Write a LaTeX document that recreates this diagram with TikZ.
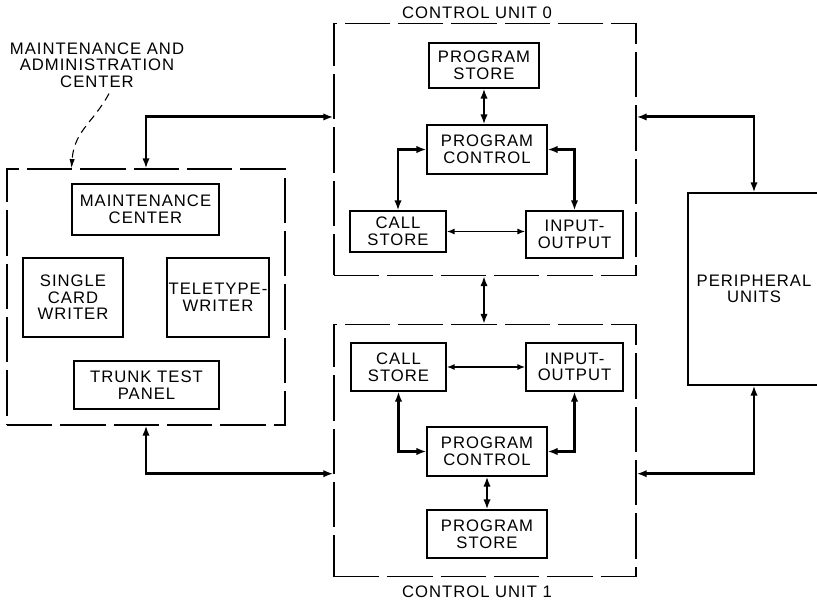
\documentclass[tikz,border=0pt]{standalone}
\usepackage{fontspec}
\setmainfont{Liberation Sans}[LetterSpace=6]
\usetikzlibrary{positioning,arrows.meta,calc}

\begin{document}
\begin{tikzpicture}[
    x=0.75pt, y=-0.75pt,
    every node/.style={font=\fontsize{12.5}{12.5}\selectfont, align=center},
    unitBox/.style={rectangle, draw, line width=0.9pt, dash pattern=on 34pt off 6pt, minimum width=226.5pt, minimum height=189pt, inner sep=0pt},
    blockNode/.style={rectangle, draw, line width=0.8pt, inner sep=1pt},
    busEdge/.style={line width=2.2pt, {Latex[length=7.5pt,width=5.5pt]}-{Latex[length=7.5pt,width=5.5pt]}},
    linkEdge/.style={line width=1.3pt, {Latex[length=6pt,width=4.5pt]}-{Latex[length=6pt,width=4.5pt]}},
    noteEdge/.style={line width=0.8pt, dash pattern=on 6pt off 4pt, -{Latex[length=7pt,width=4pt]}}
]
    \useasboundingbox (0,0) rectangle (817,602);

    % control unit 0
    \node [unitBox] (cu0) at (485,149.5) {};
    \node (title0) at (477,13) {CONTROL UNIT 0};
    \node [blockNode, minimum width=82.5pt, minimum height=33.75pt] (ps0) at (484,65.5) {PROGRAM\\STORE};
    \node [blockNode, minimum width=90pt, minimum height=36.75pt] (pc0) at (487,149.5) {PROGRAM\\CONTROL};
    \node [blockNode, minimum width=72pt, minimum height=30.75pt] (cs0) at (398,231.5) {CALL\\STORE};
    \node [blockNode, minimum width=72.75pt, minimum height=35.25pt] (io0) at (574.5,234.5) {INPUT-\\OUTPUT};

    % control unit 1
    \node [unitBox] (cu1) at (485,450.5) {};
    \node (title1) at (477,592) {CONTROL UNIT 1};
    \node [blockNode, minimum width=71.25pt, minimum height=36pt] (cs1) at (398.5,367) {CALL\\STORE};
    \node [blockNode, minimum width=72.75pt, minimum height=36pt] (io1) at (574.5,367) {INPUT-\\OUTPUT};
    \node [blockNode, minimum width=90pt, minimum height=36.75pt] (pc1) at (487,451.5) {PROGRAM\\CONTROL};
    \node [blockNode, minimum width=90pt, minimum height=36pt] (ps1) at (487,534) {PROGRAM\\STORE};

    % maintenance and administration center
    \node [unitBox, minimum width=208.5pt, minimum height=192pt] (mac) at (146,297) {};
    \node (macLabel) at (97,65) {MAINTENANCE AND\\ADMINISTRATION\\CENTER};
    \node [blockNode, minimum width=110.25pt, minimum height=38.25pt] (mc) at (145.5,209.5) {MAINTENANCE\\CENTER};
    \node [blockNode, minimum width=75pt, minimum height=59.25pt] (scw) at (73,297.5) {SINGLE\\CARD\\WRITER};
    \node [blockNode, minimum width=76.5pt, minimum height=59.25pt] (tw) at (218,297.5) {TELETYPE-\\WRITER};
    \node [blockNode, minimum width=108.75pt, minimum height=36pt] (ttp) at (146.5,385) {TRUNK TEST\\PANEL};

    % peripheral units
    \node [blockNode, minimum width=99pt, minimum height=144pt] (per) at (754,289) {PERIPHERAL\\UNITS};

    % inside the control units
    \draw [busEdge] (ps0) -- (ps0 |- pc0.north);
    \draw [busEdge] (pc0.west) -| (cs0.north);
    \draw [busEdge] (pc0.east) -| (io0.north);
    \draw [linkEdge] (cs0.east) -- (cs0.east -| io0.west);
    \draw [linkEdge] (cs1.east) -- (cs1.east -| io1.west);
    \draw [busEdge] (pc1.west) -| (cs1.south);
    \draw [busEdge] (pc1.east) -| (io1.south);
    \draw [busEdge] (pc1) -- (ps1);

    % between the units
    \draw [busEdge] (cu0.south -| ps0) -- (cu1.north -| ps0);
    \draw [busEdge] (mac.north) |- ([yshift=24.4pt]cu0.west);
    \draw [busEdge] (mac.south) |- ([yshift=-17.4pt]cu1.west);
    \draw [busEdge] ([yshift=24.4pt]cu0.east) -| (per.north);
    \draw [busEdge] ([yshift=-17.4pt]cu1.east) -| (per.south);
    \draw [noteEdge] ([xshift=9pt,yshift=-1pt]macLabel.south) .. controls +(-12pt,-22pt) and +(2pt,28pt) .. (mac.north -| mc.west);
\end{tikzpicture}
\end{document}
